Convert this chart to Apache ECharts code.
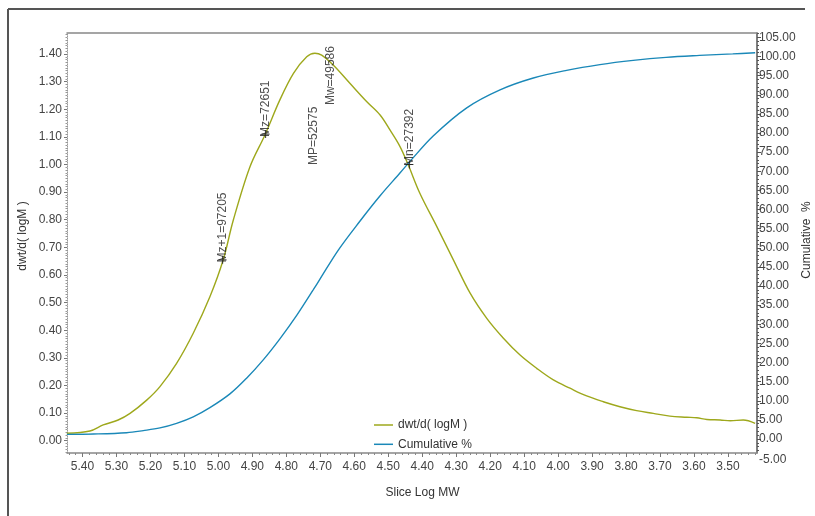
<!DOCTYPE html>
<html><head><meta charset="utf-8">
<script src="https://cdn.jsdelivr.net/npm/echarts@6/dist/echarts.min.js"></script>
<style>html,body{margin:0;padding:0;background:#fff}#c{width:815px;height:516px}</style>
</head><body><div id="c"></div>
<script>
// ---- data ----
const xTickLabels = [5.40, 5.30, 5.20, 5.10, 5.00, 4.90, 4.80, 4.70, 4.60, 4.50, 4.40, 4.30, 4.20, 4.10, 4.00, 3.90, 3.80, 3.70, 3.60, 3.50];
const leftTickLabels = [0.00, 0.10, 0.20, 0.30, 0.40, 0.50, 0.60, 0.70, 0.80, 0.90, 1.00, 1.10, 1.20, 1.30, 1.40];
const rightTickLabels = [0, 5, 10, 15, 20, 25, 30, 35, 40, 45, 50, 55, 60, 65, 70, 75, 80, 85, 90, 95, 100, 105];

const dwtLogM = [5.446, 5.378, 5.339, 5.295, 5.26, 5.211, 5.172, 5.123, 5.074, 5.025, 4.986, 4.956, 4.907, 4.863, 4.819, 4.779, 4.74, 4.716, 4.696, 4.662, 4.613, 4.563, 4.524, 4.495, 4.465, 4.441, 4.407, 4.357, 4.308, 4.259, 4.21, 4.161, 4.112, 4.063, 4.014, 3.965, 3.916, 3.867, 3.818, 3.769, 3.72, 3.671, 3.621, 3.592, 3.562, 3.523, 3.493, 3.455, 3.42];
const dwtValues = [0.027, 0.035, 0.057, 0.075, 0.099, 0.147, 0.196, 0.28, 0.389, 0.521, 0.654, 0.799, 0.992, 1.107, 1.234, 1.33, 1.39, 1.403, 1.396, 1.36, 1.294, 1.227, 1.179, 1.125, 1.064, 0.998, 0.896, 0.775, 0.654, 0.534, 0.443, 0.371, 0.31, 0.262, 0.22, 0.19, 0.162, 0.141, 0.123, 0.109, 0.099, 0.089, 0.085, 0.083, 0.077, 0.075, 0.072, 0.075, 0.063];

const cumLogM = [5.446, 5.368, 5.27, 5.221, 5.172, 5.123, 5.074, 5.025, 4.966, 4.917, 4.868, 4.819, 4.769, 4.721, 4.701, 4.647, 4.583, 4.524, 4.465, 4.436, 4.367, 4.269, 4.171, 4.073, 3.975, 3.877, 3.779, 3.682, 3.584, 3.486, 3.42];
const cumValues = [1.2, 1.3, 1.65, 2.2, 2.9, 4.1, 5.8, 8.2, 11.8, 15.9, 20.7, 26.2, 32.4, 39.0, 41.8, 49.4, 57.0, 63.6, 69.6, 72.6, 79.3, 86.6, 91.3, 94.4, 96.4, 97.9, 99.0, 99.8, 100.3, 100.7, 101.0];

const annotNames = ['Mz+1=97205', 'Mz=72651', 'MP=52575', 'Mw=49586', 'Mn=27392'];
const annotLogM = [4.9877, 4.8612, 4.7208, 4.6954, 4.4376];
const annotMarkY = [0.655, 1.11, 1.395, 1.40, 1.0];
const annotLabelLogM = [4.9877, 4.8612, 4.7208, 4.669, 4.4376];
const annotLabelY = [0.645, 1.10, 0.998, 1.215, 0.995];

// ---- helpers ----
function range(a, b, step) {
  const out = []; const n = Math.round((b - a) / step);
  for (let i = 0; i <= n; i++) out.push(+(a + i * step).toFixed(4));
  return out;
}
const xMinor = range(3.42, 5.44, 0.02);
const yLeftMinor = range(-0.04, 1.47, 0.01);
const yRightMinor = range(-3, 106, 1);
const rightMajor = range(0, 105, 5);

const X_MIN = 3.4146, X_MAX = 5.4456;
const Y1_MIN = -0.0445, Y1_MAX = 1.4761;
const Y2_MIN = -3.66, Y2_MAX = 106.16;

const FONT = 'Liberation Sans';
const GREEN = '#9ea81c', BLUE = '#1a88b8';
const fmt2 = v => Number(v).toFixed(2);

const chart = echarts.init(document.getElementById('c'), null, { renderer: 'canvas' });

const baseX = { type: 'value', inverse: true, min: X_MIN, max: X_MAX, gridIndex: 0, splitLine: { show: false } };
const symbolFor = ['path://M0,5L10,5M5,0L5,10', 'path://M0,5L10,5M5,0L5,10', 'path://M5,0L5,10', 'path://M0,5L10,5', 'path://M0,5L10,5M5,0L5,10'];
const sizeFor = [8, 8, [2, 4], [5, 2], 8];

const frame = [
  { type: 'line', shape: { x1: 8, y1: 9, x2: 805, y2: 9 }, style: { stroke: '#555', lineWidth: 2 }, silent: true },
  { type: 'line', shape: { x1: 8, y1: 9, x2: 8, y2: 516 }, style: { stroke: '#555', lineWidth: 2 }, silent: true }
];

const option = {
  animation: false,
  backgroundColor: '#fff',
  textStyle: { fontFamily: FONT },
  grid: { left: 67, top: 33, width: 690, height: 420, show: false, containLabel: false, outerBoundsMode: 'none' },
  legend: {
    orient: 'vertical', left: 374, top: 418, padding: 0, itemWidth: 19, itemHeight: 1.5, itemGap: 5.3,
    icon: 'rect',
    data: ['dwt/d( logM )', 'Cumulative %'],
    textStyle: { fontFamily: FONT, fontSize: 12, color: '#333', lineHeight: 14 }
  },
  xAxis: [
    Object.assign({}, baseX, {
      position: 'bottom',
      name: 'Slice Log MW', nameLocation: 'middle', nameGap: 34, nameMoveOverlap: false,
      nameTextStyle: { fontFamily: FONT, fontSize: 12, color: '#333', padding: [0, 0, 0, 21] },
      axisLine: { show: true, onZero: false, lineStyle: { color: '#888', width: 1.5 } },
      axisTick: { show: true, customValues: xMinor, length: 2, lineStyle: { color: '#888' } },
      axisLabel: { show: true, customValues: xTickLabels, formatter: fmt2, margin: 8, fontFamily: FONT, fontSize: 12, color: '#444' }
    }),
    Object.assign({}, baseX, {
      position: 'bottom',
      axisLine: { show: false, onZero: false },
      axisTick: { show: true, customValues: xTickLabels, length: 4, lineStyle: { color: '#777' } },
      axisLabel: { show: false }
    }),
    Object.assign({}, baseX, {
      position: 'top',
      axisLine: { show: true, onZero: false, lineStyle: { color: '#888', width: 1.5 } },
      axisTick: { show: false }, axisLabel: { show: false }
    })
  ],
  yAxis: [
    {
      type: 'value', position: 'left', min: Y1_MIN, max: Y1_MAX, splitLine: { show: false },
      name: 'dwt/d( logM )', nameLocation: 'middle', nameGap: 38, nameRotate: 90, nameMoveOverlap: false,
      nameTextStyle: { fontFamily: FONT, fontSize: 12, color: '#333', padding: [0, 0, 0, 14] },
      axisLine: { show: true, onZero: false, lineStyle: { color: '#999', type: 'dotted', width: 1 } },
      axisTick: { show: true, customValues: yLeftMinor, length: 1.5, lineStyle: { color: '#999' } },
      axisLabel: { show: true, customValues: leftTickLabels, formatter: fmt2, margin: 5, padding: [3, 0, 0, 0], fontFamily: FONT, fontSize: 12, color: '#444' }
    },
    {
      type: 'value', position: 'right', min: Y2_MIN, max: Y2_MAX, splitLine: { show: false },
      name: 'Cumulative  %', nameLocation: 'middle', nameGap: 44, nameRotate: 90, nameMoveOverlap: false,
      nameTextStyle: { fontFamily: FONT, fontSize: 12, color: '#333', padding: [0, 0, 0, 6] },
      axisLine: { show: true, onZero: false, lineStyle: { color: '#555', width: 1.5 } },
      axisTick: { show: true, customValues: yRightMinor, length: 2, lineStyle: { color: '#555' } },
      axisLabel: { show: true, customValues: rightTickLabels, formatter: fmt2, margin: 2, padding: [3, 0, 0, 0], fontFamily: FONT, fontSize: 12, color: '#444' }
    },
    {
      type: 'value', position: 'left', min: Y1_MIN, max: Y1_MAX, splitLine: { show: false },
      axisLine: { show: false, onZero: false },
      axisTick: { show: true, customValues: leftTickLabels, length: 3, lineStyle: { color: '#777' } },
      axisLabel: { show: false }
    },
    {
      type: 'value', position: 'right', min: Y2_MIN, max: Y2_MAX, splitLine: { show: false },
      axisLine: { show: false, onZero: false },
      axisTick: { show: true, customValues: rightMajor, length: 4, lineStyle: { color: '#555' } },
      axisLabel: { show: false }
    }
  ],
  series: [
    {
      name: 'dwt/d( logM )', type: 'line', xAxisIndex: 0, yAxisIndex: 0,
      data: dwtLogM.map((x, i) => [x, dwtValues[i]]),
      symbol: 'none', smooth: 0.35, lineStyle: { color: GREEN, width: 1.4 }, itemStyle: { color: GREEN }
    },
    {
      name: 'Cumulative %', type: 'line', xAxisIndex: 0, yAxisIndex: 1,
      data: cumLogM.map((x, i) => [x, cumValues[i]]),
      symbol: 'none', smooth: 0.35, lineStyle: { color: BLUE, width: 1.4 }, itemStyle: { color: BLUE }
    },
    {
      name: 'markers', type: 'scatter', xAxisIndex: 0, yAxisIndex: 0, silent: true, z: 5,
      data: annotLogM.map((x, i) => ({ value: [x, annotMarkY[i]], symbol: symbolFor[i], symbolSize: sizeFor[i] })),
      itemStyle: { color: 'none', borderColor: '#222', borderWidth: 1.2 }
    },
    {
      name: 'labels', type: 'scatter', xAxisIndex: 0, yAxisIndex: 0, silent: true, z: 6,
      symbolSize: 0.01, itemStyle: { color: 'rgba(0,0,0,0)' },
      data: annotLabelLogM.map((x, i) => ({ name: annotNames[i], value: [x, annotLabelY[i]] })),
      label: {
        show: true, formatter: p => p.name, position: 'top', distance: 0, rotate: 90,
        align: 'left', verticalAlign: 'middle', fontFamily: FONT, fontSize: 12, color: '#222'
      }
    }
  ],
  graphic: frame
};
chart.setOption(option);

// the reference shows a "-5.00" label just below the right axis end
const yNeg5 = chart.convertToPixel({ yAxisIndex: 1 }, -5);
const xRight = chart.convertToPixel({ xAxisIndex: 0 }, X_MIN);
chart.setOption({
  graphic: frame.concat([
    { type: 'text', x: xRight + 2, y: yNeg5 + 1.5, silent: true,
      style: { text: '-5.00', fontFamily: FONT, fontSize: 12, fill: '#444', textAlign: 'left', textVerticalAlign: 'middle' } }
  ])
});
</script>
</body></html>
